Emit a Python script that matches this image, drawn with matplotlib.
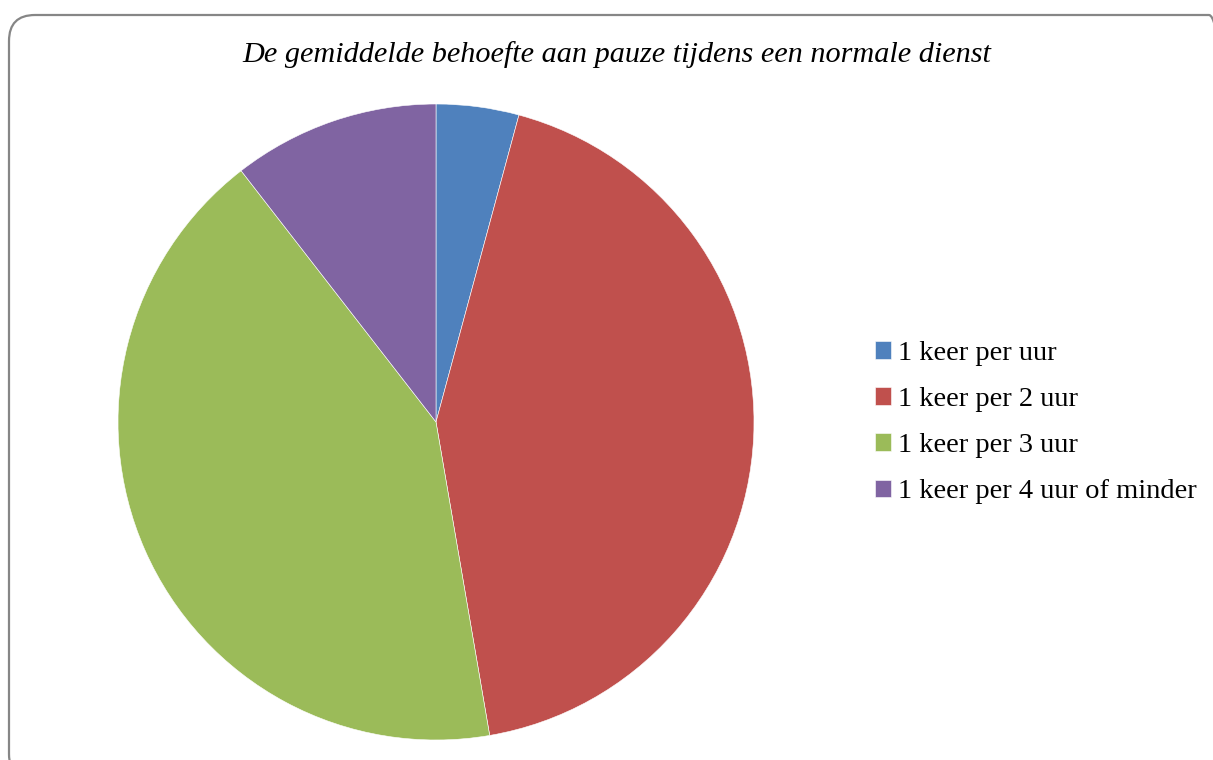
import matplotlib
matplotlib.use("Agg")
import matplotlib.pyplot as plt
from matplotlib.patches import FancyBboxPatch

categories = ["1 keer per uur", "1 keer per 2 uur", "1 keer per 3 uur", "1 keer per 4 uur of minder"]
values = [4.2, 43.1, 42.2, 10.5]
colors = ["#4F81BD", "#C0504D", "#9BBB59", "#8064A2"]
title = "De gemiddelde behoefte aan pauze tijdens een normale dienst"

W, H = 1213, 760
fig = plt.figure(figsize=(W / 100, H / 100), dpi=100)
ax = fig.add_axes([0, 0, 1, 1])
ax.set_xlim(0, W)
ax.set_ylim(0, H)
ax.axis("off")

# border
box = FancyBboxPatch((9, -20), 1226, H - 15 + 20, boxstyle="round,pad=0,rounding_size=26",
                     fill=False, edgecolor="#868686", linewidth=1.6)
ax.add_patch(box)

wedges, _ = ax.pie(values, colors=colors, startangle=90, counterclock=False,
                   center=(436, H - 422), radius=318, frame=True,
                   wedgeprops=dict(linewidth=0.4, edgecolor="white"))
ax.set_xlim(0, W)
ax.set_ylim(0, H)
ax.set_aspect("auto")
ax.axis("off")

ax.text(617, H - 55, title, ha="center", va="center", fontsize=21.8, style="italic",
        family="Liberation Serif")

leg = ax.legend(wedges, categories, loc="upper left", bbox_to_anchor=(875 / W, 1 - 341 / H),
                frameon=False, prop=dict(family="Liberation Serif", size=20.5),
                handlelength=0.55, handleheight=0.55, handletextpad=0.25,
                labelspacing=0.74, borderpad=0, borderaxespad=0)

fig.savefig("out.png", dpi=100)
